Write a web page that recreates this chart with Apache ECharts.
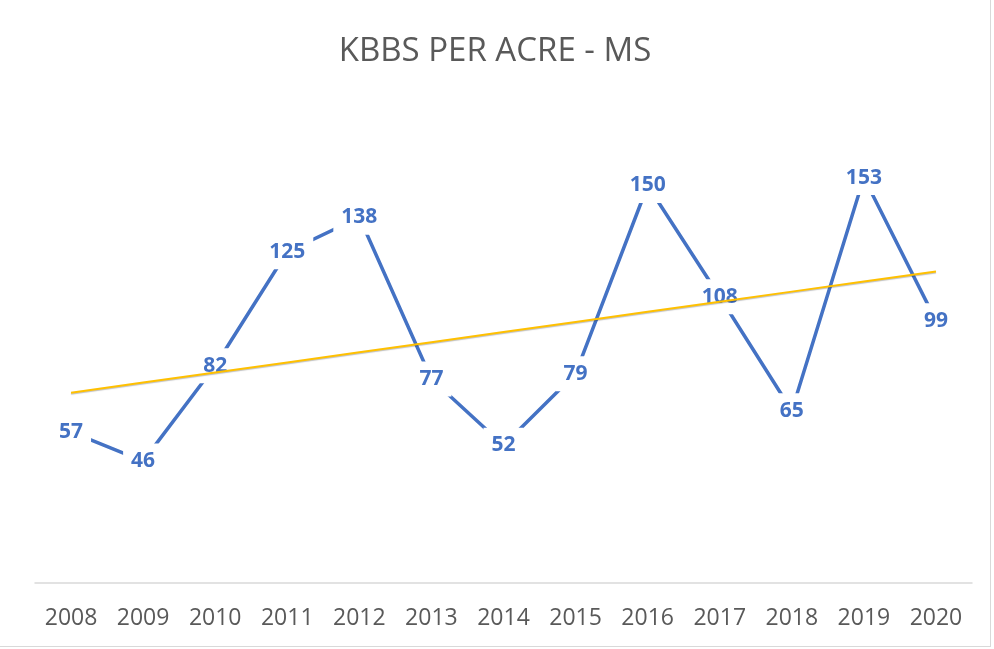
<!DOCTYPE html>
<html>
<head>
<meta charset="utf-8">
<script src="https://cdn.jsdelivr.net/npm/echarts@6/dist/echarts.min.js"></script>
<style>
  html, body { margin: 0; padding: 0; background: #fff; }
  #chart { position: absolute; left: 0; top: 0; width: 990px; height: 646px; border-right: 1px solid #d9d9d9; border-bottom: 1px solid #d9d9d9; }
</style>
</head>
<body>
<div id="chart"></div>
<script>
const years = ['2008', '2009', '2010', '2011', '2012', '2013', '2014', '2015', '2016', '2017', '2018', '2019', '2020']
const kbbs = [57, 46, 82, 125, 138, 77, 52, 79, 150, 108, 65, 153, 99]

// linear trendline (least squares over category index)
const n = kbbs.length
const meanX = (n - 1) / 2
const meanY = kbbs.reduce((a, b) => a + b, 0) / n
let sxy = 0, sxx = 0
kbbs.forEach((v, i) => { sxy += (i - meanX) * (v - meanY); sxx += (i - meanX) * (i - meanX) })
const slope = sxy / sxx
const trend = kbbs.map((v, i) => +(meanY + slope * (i - meanX)).toFixed(2))

const font = 'Open Sans, Noto Sans, sans-serif'
const chart = echarts.init(document.getElementById('chart'))
chart.setOption({
  animation: false,
  title: {
    text: 'KBBS PER ACRE - MS',
    left: 'center',
    top: 30,
    textStyle: { fontFamily: font, fontSize: 33, fontWeight: 'normal', color: '#595959' }
  },
  grid: { left: 35, right: 18, top: 106, bottom: 63 },
  xAxis: {
    type: 'category',
    data: years,
    boundaryGap: true,
    axisLine: { lineStyle: { color: '#d9d9d9', width: 1.5 } },
    axisTick: { show: false },
    axisLabel: { fontFamily: font, fontSize: 23, color: '#595959', margin: 24 }
  },
  yAxis: {
    type: 'value',
    min: 0,
    max: 180,
    show: false,
    splitLine: { show: false }
  },
  series: [{
    name: 'KBBS',
    type: 'line',
    data: kbbs,
    z: 2,
    symbol: 'circle',
    symbolSize: 1,
    showSymbol: true,
    itemStyle: { color: '#4472C4' },
    lineStyle: { color: '#4472C4', width: 3.5 },
    label: {
      show: true,
      position: 'inside',
      fontFamily: font,
      fontSize: 21,
      fontWeight: 'bold',
      color: '#4472C4',
      backgroundColor: '#fff',
      padding: [7, 8]
    }
  }, {
    name: 'Trend',
    type: 'line',
    data: trend,
    z: 5,
    symbol: 'none',
    silent: true,
    lineStyle: { color: '#FFC000', width: 2, shadowColor: 'rgba(0,0,0,0.25)', shadowBlur: 1, shadowOffsetY: 1 }
  }]
})
</script>
</body>
</html>
